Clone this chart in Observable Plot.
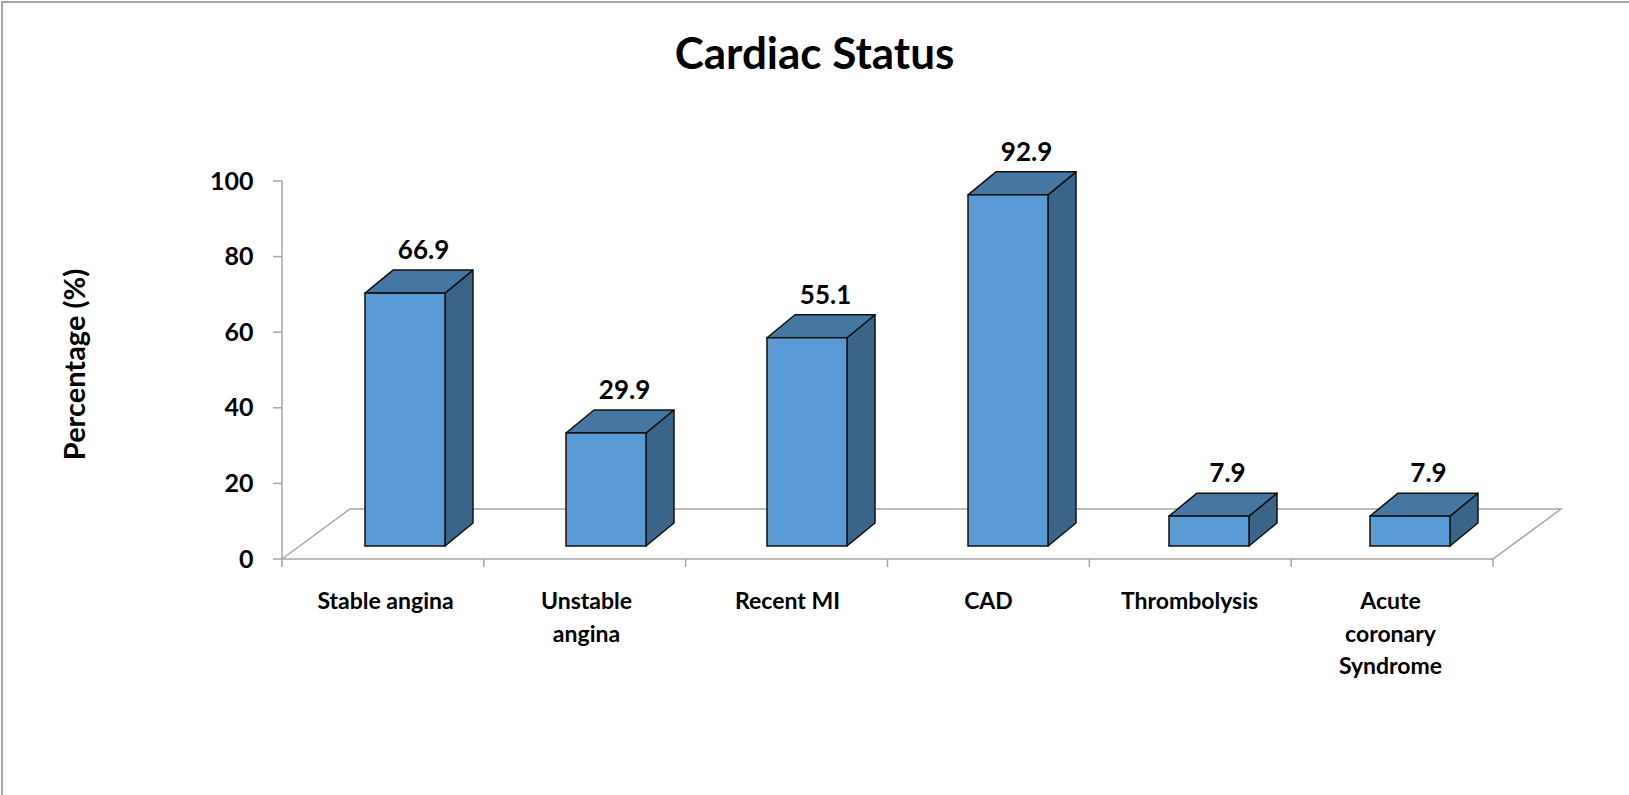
<!DOCTYPE html>
<html>
<head>
<meta charset="utf-8">
<script src="https://cdn.jsdelivr.net/npm/d3@7"></script>
<script src="https://cdn.jsdelivr.net/npm/@observablehq/plot@0.6"></script>
<style>
html, body { margin: 0; padding: 0; background: #fff; overflow: hidden; }
#wrap { position: relative; width: 1629px; height: 795px; overflow: hidden; font-family: Lato, "Open Sans", sans-serif; }
#frame { position: absolute; left: 1px; top: 1px; right: -10px; bottom: -10px; border-left: 2px solid #a6a6a6; border-top: 2px solid #a6a6a6; pointer-events: none; }
#title { height: 100px; line-height: 105px; text-align: center; font-weight: 700; font-size: 44px; color: #000; }
#chart svg { display: block; }
</style>
</head>
<body>
<div id="wrap">
  <div id="title"></div>
  <div id="chart"></div>
  <div id="frame"></div>
</div>
<script>
// ---- data ----
const title = "Cardiac Status";
const yLabel = "Percentage (%)";
const categories = ["Stable angina", "Unstable angina", "Recent MI", "CAD", "Thrombolysis", "Acute coronary Syndrome"];
const tickLabels = ["Stable angina", "Unstable\nangina", "Recent MI", "CAD", "Thrombolysis", "Acute\ncoronary\nSyndrome"];
const values = [66.9, 29.9, 55.1, 92.9, 7.9, 7.9];
const yTicks = [0, 20, 40, 60, 80, 100];

// ---- style constants (pixels) ----
const FRONT = "#5B9BD5", TOP = "#4677A3", SIDE = "#3B6489", EDGE = "#111", AXIS = "#a6a6a6";
const FRONT_DX = 20, FRONT_DY = -13;   // front face offset within floor depth
const DEPTH_X = 28, DEPTH_Y = -23;     // box depth
const FLOOR_X = 68, FLOOR_Y = -50;     // floor depth

document.getElementById("title").textContent = title;

const data = categories.map((c, i) => ({category: c, value: values[i], label: tickLabels[i]}));
const bandwidth = (x) => (typeof x.bandwidth === "function" ? x.bandwidth() : x.bandwidth);

// floor parallelogram + axes lines/ticks, derived from the scales
const floorMark = (index, scales) => {
  const {x, y} = scales;
  const [x0, x1] = x.range();
  const y0 = y(0);
  const g = d3.create("svg:g").attr("fill", "none").attr("stroke", AXIS).attr("stroke-width", 1.5);
  g.append("path").attr("d", `M${x0},${y0}L${x0 + FLOOR_X},${y0 + FLOOR_Y}L${x1 + FLOOR_X},${y0 + FLOOR_Y}L${x1},${y0}Z`);
  g.append("path").attr("d", `M${x0},${y(yTicks[yTicks.length - 1])}L${x0},${y0}`);
  for (const t of yTicks) g.append("path").attr("d", `M${x0 - 9},${y(t)}L${x0},${y(t)}`);
  const n = categories.length;
  for (let k = 0; k <= n; ++k) {
    const xx = x0 + (k * (x1 - x0)) / n;
    g.append("path").attr("d", `M${xx},${y0}L${xx},${y0 + 8}`);
  }
  return g.node();
};

// top and side faces of each box, derived from the scales
const boxMark = (index, scales) => {
  const {x, y} = scales;
  const w = bandwidth(x);
  const g = d3.create("svg:g").attr("stroke", EDGE).attr("stroke-width", 1.5).attr("stroke-linejoin", "round");
  data.forEach((d) => {
    const xl = x(d.category) + FRONT_DX, xr = xl + w;
    const yt = y(d.value) + FRONT_DY, yb = y(0) + FRONT_DY;
    g.append("path").attr("fill", SIDE)
      .attr("d", `M${xr},${yt}L${xr + DEPTH_X},${yt + DEPTH_Y}L${xr + DEPTH_X},${yb + DEPTH_Y}L${xr},${yb}Z`);
    g.append("path").attr("fill", TOP)
      .attr("d", `M${xl},${yt}L${xl + DEPTH_X},${yt + DEPTH_Y}L${xr + DEPTH_X},${yt + DEPTH_Y}L${xr},${yt}Z`);
  });
  return g.node();
};

const chart = Plot.plot({
  width: 1629,
  height: 695,
  marginLeft: 282,
  marginRight: 136,
  marginTop: 81,
  marginBottom: 236,
  style: {fontFamily: "Lato, 'Open Sans', sans-serif", background: "transparent", overflow: "visible", color: "#000"},
  x: {type: "band", domain: categories, paddingInner: 0.6, paddingOuter: 0.3, axis: null},
  y: {domain: [0, 100], axis: null},
  marks: [
    floorMark,
    boxMark,
    Plot.barY(data, {x: "category", y: "value", dx: FRONT_DX, dy: FRONT_DY, fill: FRONT, stroke: EDGE, strokeWidth: 1.5}),
    Plot.text(data, {x: "category", y: "value", text: (d) => d.value.toFixed(1), dx: 38, dy: -56, fontSize: 26, fontWeight: "bold", fill: "#000"}),
    Plot.text(data, {x: "category", text: "label", frameAnchor: "bottom", lineAnchor: "top", dy: 27, fontSize: 23, lineHeight: 1.4, fontWeight: "bold", fill: "#000"}),
    Plot.text(yTicks, {y: (d) => d, text: (d) => String(d), frameAnchor: "left", textAnchor: "end", dx: -29, fontSize: 25, fontWeight: "bold", fill: "#000"}),
    Plot.text([yLabel], {text: (d) => d, frameAnchor: "left", textAnchor: "middle", rotate: -90, dx: -207, dy: -6, fontSize: 29, fontWeight: "bold", fill: "#000"})
  ]
});
document.getElementById("chart").appendChild(chart);
</script>
</body>
</html>
